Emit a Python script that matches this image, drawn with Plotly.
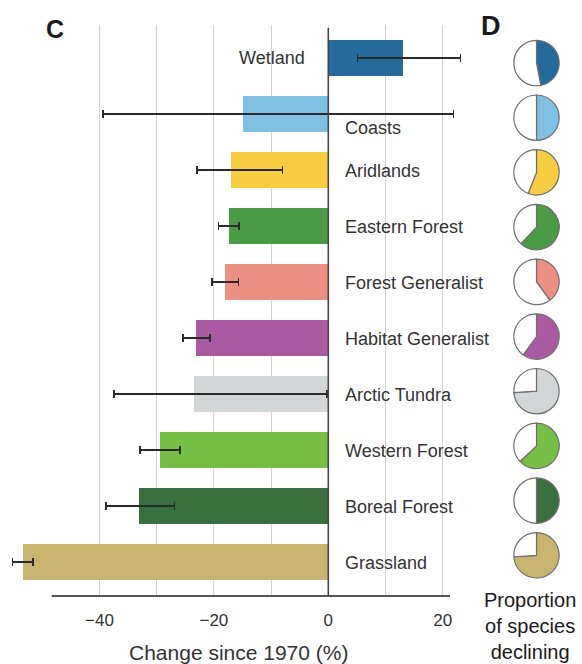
import plotly.graph_objects as go

categories = ["Wetland", "Coasts", "Aridlands", "Eastern Forest", "Forest Generalist",
              "Habitat Generalist", "Arctic Tundra", "Western Forest", "Boreal Forest", "Grassland"]
change = [13.1, -14.9, -17.0, -17.4, -18.1, -23.1, -23.4, -29.4, -33.1, -53.4]
err_low = [5.1, -39.4, -23.0, -19.2, -20.3, -25.4, -37.5, -32.9, -38.9, -55.2]
err_high = [23.1, 21.9, -8.0, -15.6, -15.7, -20.7, -0.2, -25.9, -26.9, -51.6]
prop_declining = [0.47, 0.50, 0.56, 0.62, 0.40, 0.60, 0.74, 0.63, 0.50, 0.74]
colors = ["#246b9c", "#80c0e2", "#f8cd42", "#4b9a45", "#ec9181",
          "#a95aa0", "#d3d6d6", "#76bf45", "#37703d", "#c8b36f"]
tick_vals = [-40, -30, -20, -10, 0, 10, 20]
tick_text = ["\u221240", "", "\u221220", "", "0", "", "20"]

W, H = 582, 664
FONT = "Liberation Sans, Arial, sans-serif"

# pixel geometry helpers
px0, px1 = 10, 470        # x plot area in pixels
zero_px, per_unit = 328.3, 5.72
x_range = [(px0 - zero_px) / per_unit, (px1 - zero_px) / per_unit]
py_top, py_bot = 25, 596
row0, row_step = 58, 56
y_range = [(py_bot - row0) / row_step, (py_top - row0) / row_step]

ypos = list(range(len(categories)))
plus = [h - v for h, v in zip(err_high, change)]
minus = [v - l for v, l in zip(change, err_low)]

fig = go.Figure()
fig.add_trace(go.Bar(
    x=change, y=ypos, orientation="h", width=36 / row_step,
    marker=dict(color=colors, line=dict(width=0)),
    error_x=dict(type="data", symmetric=False, array=plus, arrayminus=minus,
                 color="#2a2a2a", thickness=1.6, width=4),
    hoverinfo="skip", showlegend=False,
))

# pies
pie_cx, pie_r = 536.5, 22.7
pie_y0, pie_step = 63, 54.7
for i, (p, c) in enumerate(zip(prop_declining, colors)):
    cy = pie_y0 + i * pie_step
    fig.add_trace(go.Pie(
        values=[p, 1 - p], sort=False, direction="clockwise", rotation=0,
        marker=dict(colors=[c, "#ffffff"], line=dict(color="#6e6e6e", width=1.2)),
        textinfo="none", hoverinfo="skip", showlegend=False,
        domain=dict(x=[(pie_cx - pie_r) / W, (pie_cx + pie_r) / W],
                    y=[1 - (cy + pie_r) / H, 1 - (cy - pie_r) / H]),
    ))

annotations = []
for i, name in enumerate(categories):
    if change[i] > 0:
        annotations.append(dict(x=-3.7, y=i, xref="x", yref="y", text=name, showarrow=False,
                                xanchor="right", yanchor="middle",
                                font=dict(family=FONT, size=18, color="#333333")))
    else:
        annotations.append(dict(x=2.6, y=i, xref="x", yref="y", text=name, showarrow=False,
                                xanchor="left", yanchor="middle",
                                yshift=-14 if name == "Coasts" else -1,
                                font=dict(family=FONT, size=18, color="#333333")))

annotations += [
    dict(x=55 / W, y=1 - 29 / H, xref="paper", yref="paper", text="<b>C</b>", showarrow=False,
         xanchor="center", yanchor="middle", font=dict(family=FONT, size=25, color="#1a1a1a")),
    dict(x=491 / W, y=1 - 26 / H, xref="paper", yref="paper", text="<b>D</b>", showarrow=False,
         xanchor="center", yanchor="middle", font=dict(family=FONT, size=27, color="#1a1a1a")),
    dict(x=238 / W, y=1 - 652 / H, xref="paper", yref="paper", text="Change since 1970 (%)",
         showarrow=False, xanchor="center", yanchor="middle",
         font=dict(family=FONT, size=21, color="#333333")),
    dict(x=530 / W, y=1 - 626 / H, xref="paper", yref="paper",
         text="Proportion<br>of species<br>declining", showarrow=False,
         xanchor="center", yanchor="middle", align="center",
         font=dict(family=FONT, size=20, color="#1a1a1a")),
]

shapes = [
    # bottom axis line
    dict(type="line", xref="x", yref="paper", x0=(51.7 - zero_px) / per_unit, x1=(450 - zero_px) / per_unit,
         y0=1 - py_bot / H, y1=1 - py_bot / H, line=dict(color="#555555", width=2), layer="above"),
    # zero line
    dict(type="line", xref="x", yref="paper", x0=0, x1=0, y0=1 - py_bot / H, y1=1 - 28 / H,
         line=dict(color="#444444", width=1.6), layer="above"),
]

fig.update_layout(
    width=W, height=H, autosize=False,
    margin=dict(l=0, r=0, t=0, b=0),
    paper_bgcolor="white", plot_bgcolor="white",
    font=dict(family=FONT),
    xaxis=dict(domain=[px0 / W, px1 / W], range=x_range, tickvals=tick_vals, ticktext=tick_text,
               showgrid=True, gridcolor="#d2d2d2", gridwidth=1.3, zeroline=False,
               showline=False, ticks="", ticklabelstandoff=12,
               tickfont=dict(family=FONT, size=17, color="#333333"), fixedrange=True),
    yaxis=dict(domain=[1 - py_bot / H, 1 - py_top / H], range=y_range, showgrid=False,
               zeroline=False, showticklabels=False, showline=False, fixedrange=True),
    annotations=annotations, shapes=shapes, bargap=0,
)

fig.write_html("out.html", config={"displayModeBar": False},
               post_script="document.body.style.margin='0';document.body.style.overflow='hidden';")
